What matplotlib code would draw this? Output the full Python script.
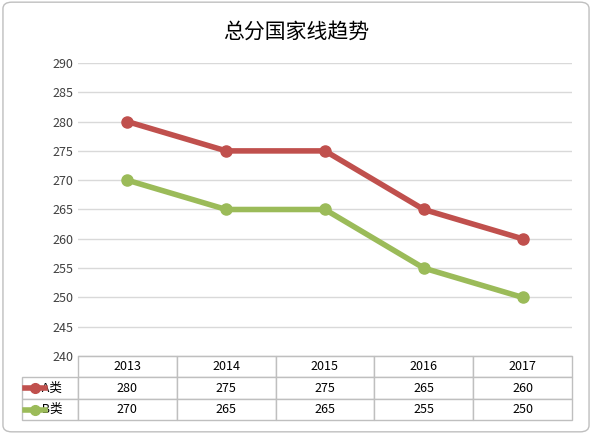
import matplotlib.pyplot as plt
from matplotlib.patches import FancyBboxPatch
from matplotlib.lines import Line2D

plt.rcParams['font.family'] = ['Noto Sans CJK SC', 'DejaVu Sans']

years = ['2013', '2014', '2015', '2016', '2017']
a_vals = [280, 275, 275, 265, 260]
b_vals = [270, 265, 265, 255, 250]
series_names = ['A类', 'B类']
red = '#C0504D'
green = '#9BBB59'

fig = plt.figure(figsize=(5.92, 4.34), dpi=100)
fig.patches.append(FancyBboxPatch((0.005, 0.005), 0.99, 0.99, boxstyle='round,pad=0,rounding_size=0.015',
                                  transform=fig.transFigure, fc='white', ec='#BFBFBF', lw=1, zorder=-10))
ax = fig.add_axes([78/592, 1-356/434, 494/592, 293/434])
ax.patch.set_alpha(0)

x = range(len(years))
ax.plot(x, a_vals, color=red, lw=4, marker='o', ms=8, solid_capstyle='round')
ax.plot(x, b_vals, color=green, lw=4, marker='o', ms=8, solid_capstyle='round')
ax.set_xlim(-0.5, len(years) - 0.5)
ax.set_ylim(240, 290)
ax.set_yticks(range(240, 291, 5))
ax.grid(axis='y', color='#D9D9D9', lw=1)
ax.set_axisbelow(True)
ax.set_xticks([])
for s in ['top', 'right', 'left']:
    ax.spines[s].set_visible(False)
ax.spines['bottom'].set_color('#BFBFBF')
ax.tick_params(axis='y', length=0, labelsize=9, colors='#404040')

fig.text(0.5, 1-32/434, '总分国家线趋势', ha='center', va='center', fontsize=15)

cell_text = [[''] + years,
             ['     ' + series_names[0]] + [str(v) for v in a_vals],
             ['     ' + series_names[1]] + [str(v) for v in b_vals]]
left = (22-78)/494
tab = ax.table(cellText=cell_text, colWidths=[56] + [99]*5,
               bbox=[left, -64/293, 1 - left, 64/293], cellLoc='center')
tab.auto_set_font_size(False)
tab.set_fontsize(9)
for (r, c), cell in tab.get_celld().items():
    cell.set_edgecolor('#BFBFBF')
    if r == 0 and c == 0:
        cell.visible_edges = ''
    if c == 0:
        cell.get_text().set_ha('left')

for i, col in enumerate([red, green]):
    yy = 1 - (388 + 22*i)/434
    fig.add_artist(Line2D([25/592, 35/592, 45/592], [yy, yy, yy], color=col, lw=4, marker='o', ms=7,
                          markevery=[1], transform=fig.transFigure))

fig.savefig('out.png', dpi=100)
